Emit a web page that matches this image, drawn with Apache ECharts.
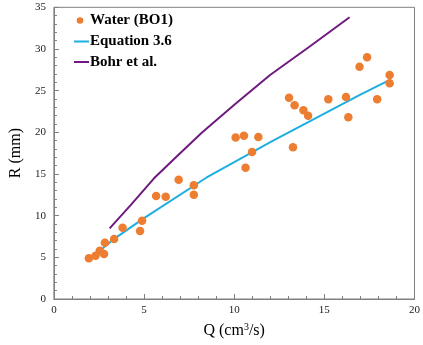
<!DOCTYPE html>
<html>
<head>
<meta charset="utf-8">
<script src="https://cdn.jsdelivr.net/npm/echarts@6/dist/echarts.min.js"></script>
<style>html,body{margin:0;padding:0;background:#fff;}#c{width:423px;height:345px;}</style>
</head>
<body>
<div id="c"></div>
<script>
const waterQ = [1.94,2.31,2.54,2.78,2.83,3.34,3.81,4.78,4.89,5.67,6.2,6.92,7.76,7.76,10.08,10.54,11.34,10.99,10.63,13.04,13.35,13.84,14.1,13.26,15.22,16.2,16.33,17.93,18.62,16.95,17.37,18.62];
const waterR = [4.88,5.2,5.8,5.4,6.76,7.2,8.56,8.16,9.4,12.36,12.28,14.3,13.64,12.5,19.38,19.6,19.44,17.64,15.75,24.15,23.24,22.64,22.0,18.2,23.96,24.24,21.8,23.96,25.88,27.87,29.0,26.88];
const eqQ = [2.45,3.36,5.0,8.45,12.08,16.89,18.55];
const eqR = [5.6,7.25,9.7,14.55,18.9,24.4,26.2];
const bohrQ = [3.09,4.27,5.54,6.81,8.2,9.99,11.99,14.17,16.4];
const bohrR = [8.48,11.3,14.45,17.1,19.95,23.28,26.88,30.27,33.8];
const xTicks = [0,5,10,15,20];
const yTicks = [0,5,10,15,20,25,30,35];
const legendNames = ['Water (BO1)','Equation 3.6','Bohr et al.'];
const colors = ['#ED7D31','#1FAEE0','#6E1A7E'];

const zip = (a,b)=>a.map((v,i)=>[v,b[i]]);
const serif = '"Liberation Serif","Times New Roman",serif';
const axisColor = '#808080';
const chart = echarts.init(document.getElementById('c'));
const legendFont = 'bold 15px ' + serif;
const rowsY = [20.5, 41.5, 62];
const graphic = [
  {type:'circle',shape:{cx:80,cy:rowsY[0],r:3.3},style:{fill:colors[0]}},
  {type:'line',shape:{x1:74,y1:rowsY[1],x2:89,y2:rowsY[1]},style:{stroke:colors[1],lineWidth:2}},
  {type:'line',shape:{x1:74,y1:rowsY[2],x2:89,y2:rowsY[2]},style:{stroke:colors[2],lineWidth:2}}
];
legendNames.forEach((n,i)=>graphic.push({type:'text',x:90,y:rowsY[i],style:{text:n,font:legendFont,fill:'#000',textVerticalAlign:'middle',verticalAlign:'middle'}}));

chart.setOption({
  animation:false,
  grid:{left:50,right:6,top:7.3,bottom:46,show:true,borderColor:axisColor,borderWidth:1},
  graphic:graphic,
  xAxis:{
    type:'value',min:xTicks[0],max:xTicks[xTicks.length-1],interval:5,
    name:'Q (cm{s|3}/s)',nameLocation:'middle',nameGap:23,
    nameTextStyle:{fontFamily:serif,fontSize:16,color:'#000',rich:{s:{fontFamily:serif,fontSize:10,verticalAlign:'top',padding:[0,0,8,0],color:'#000'}}},
    axisLine:{lineStyle:{color:axisColor}},
    axisTick:{inside:true,length:5,lineStyle:{color:axisColor}},
    minorTick:{show:true,splitNumber:5,length:3,lineStyle:{color:axisColor}},
    splitLine:{show:false},
    axisLabel:{fontFamily:serif,fontSize:11,color:'#222',margin:6}
  },
  yAxis:{
    type:'value',min:yTicks[0],max:yTicks[yTicks.length-1],interval:5,
    name:'R (mm)',nameLocation:'middle',nameGap:27,
    nameTextStyle:{fontFamily:serif,fontSize:16,color:'#000'},
    axisLine:{lineStyle:{color:axisColor}},
    axisTick:{inside:true,length:5,lineStyle:{color:axisColor}},
    minorTick:{show:true,splitNumber:5,length:3,lineStyle:{color:axisColor}},
    splitLine:{show:false},
    axisLabel:{fontFamily:serif,fontSize:11,color:'#222',margin:8}
  },
  series:[
    {name:legendNames[0],type:'scatter',data:zip(waterQ,waterR),symbolSize:8.5,itemStyle:{color:colors[0],opacity:1},z:5},
    {name:legendNames[1],type:'line',data:zip(eqQ,eqR),symbol:'none',smooth:false,lineStyle:{color:colors[1],width:2}},
    {name:legendNames[2],type:'line',data:zip(bohrQ,bohrR),symbol:'none',smooth:false,lineStyle:{color:colors[2],width:2}}
  ]
});
</script>
</body>
</html>
